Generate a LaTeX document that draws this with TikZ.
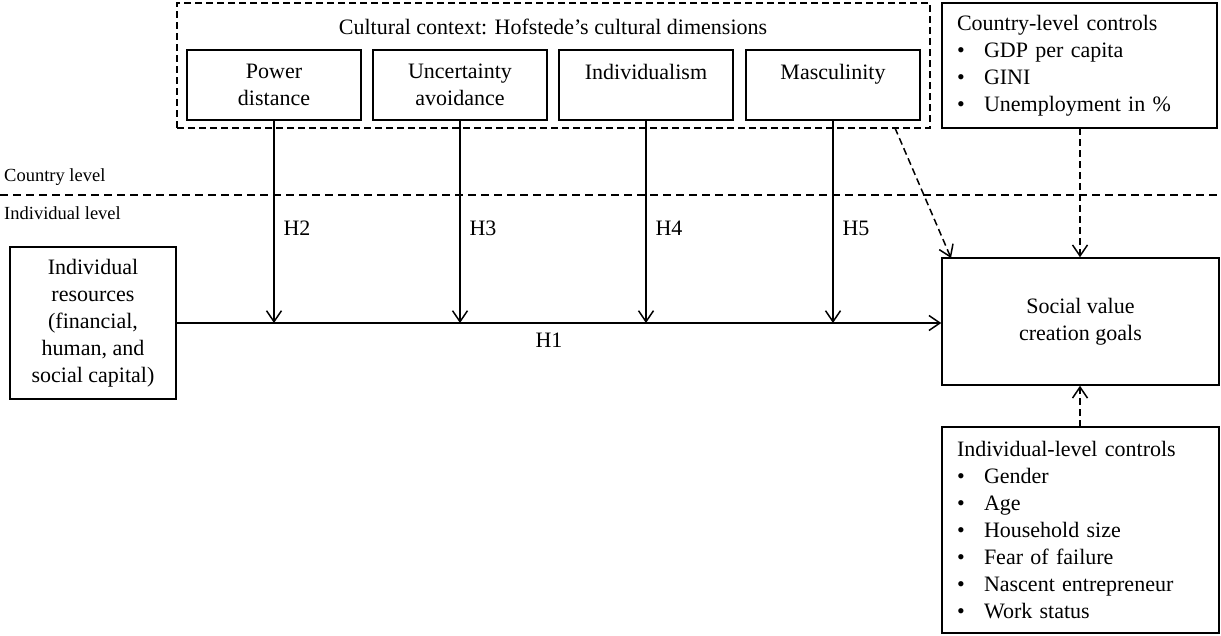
\documentclass[tikz,border=0pt]{standalone}
\usepackage{fontspec}
\setmainfont{Liberation Serif}
\usetikzlibrary{arrows.meta,calc}
\begin{document}
\begin{tikzpicture}[x=1pt,y=-1pt,
  box/.style={draw, line width=1.5pt, inner sep=0pt, align=center, font=\fontsize{22}{27}\selectfont},
  listbox/.style={draw, line width=1.5pt, inner xsep=15pt, inner ysep=0pt, align=left, font=\fontsize{22}{27}\selectfont},
  dbox/.style={draw, line width=1.5pt, dash pattern=on 7pt off 4pt, inner sep=0pt},
  arr/.style={line width=1.5pt, -{Straight Barb[length=11pt,width=15pt,line width=1.5pt]}},
  darr/.style={arr, dash pattern=on 7pt off 4pt},
  lbl/.style={font=\fontsize{18.5}{22}\selectfont, inner sep=0pt},
  txt/.style={font=\fontsize{22}{27}\selectfont, inner sep=0pt}]
\useasboundingbox (0,0) rectangle (1221,635);
\newcommand{\bl}{\makebox[27pt][l]{\textbullet}}

% cultural context
\node[dbox, minimum width=753pt, minimum height=125pt] (ctx) at (553.5,65.5) {};
\node[txt] (ctxtitle) at (553,27) {Cultural context: Hofstede’s cultural dimensions};
\node[box, minimum width=174pt, minimum height=70pt] (pd) at (274,85) {Power\\distance};
\node[box, minimum width=174pt, minimum height=70pt] (ua) at (460,85) {Uncertainty\\avoidance};
\node[box, minimum width=174pt, minimum height=70pt] (ind) at (646,85) {Individualism\\\mbox{}};
\node[box, minimum width=174pt, minimum height=70pt] (mas) at (833,85) {Masculinity\\\mbox{}};

% country-level controls
\node[listbox, text width=245pt, minimum height=125pt] (ccb) at (1079.5,65.5)
  {Country-level controls\\\bl GDP per capita\\\bl GINI\\\bl Unemployment in \%};

% level separator
\coordinate (sepl) at (0,195);
\coordinate (sepr) at (1221,195);
\draw[line width=1.5pt, dash pattern=on 8pt off 5pt] (sepl) -- (sepr);
\node[lbl, anchor=west] (cl) at (4,177) {Country level};
\node[lbl, anchor=west] (il) at (4,213) {Individual level};

% individual resources
\node[box, minimum width=166pt, minimum height=152pt] (ir) at (93,323)
  {Individual\\resources\\(financial,\\human, and\\social capital)};

% social value creation goals
\node[box, minimum width=277pt, minimum height=127pt] (sv) at (1080.5,321.5) {Social value\\creation goals};

% individual-level controls
\node[listbox, text width=247pt, minimum height=206pt] (ilc) at (1080.5,530)
  {Individual-level controls\\\bl Gender\\\bl Age\\\bl Household size\\\bl Fear of failure\\\bl Nascent entrepreneur\\\bl Work status};

% H1
\draw[arr] (ir.east) -- (ir.east -| sv.west);
\node[txt] (h1) at (549,340) {H1};

% moderators
\draw[arr] (pd.south) -- (pd.south |- ir.east);
\draw[arr] (ua.south) -- (ua.south |- ir.east);
\draw[arr] (ind.south) -- (ind.south |- ir.east);
\draw[arr] (mas.south) -- (mas.south |- ir.east);
\node[txt] (h2) at (297,228) {H2};
\node[txt] (h3) at (483,228) {H3};
\node[txt] (h4) at (669,228) {H4};
\node[txt] (h5) at (856,228) {H5};

% controls
\coordinate (ds) at (895,128);
\coordinate (de) at (951,258);
\draw[darr] (ds) -- (de);
\coordinate (cs) at (1080,128);
\coordinate (is) at (1080,427);
\draw[darr] (cs) -- (cs |- sv.north);
\draw[darr] (is) -- (is |- sv.south);
\end{tikzpicture}
\end{document}
